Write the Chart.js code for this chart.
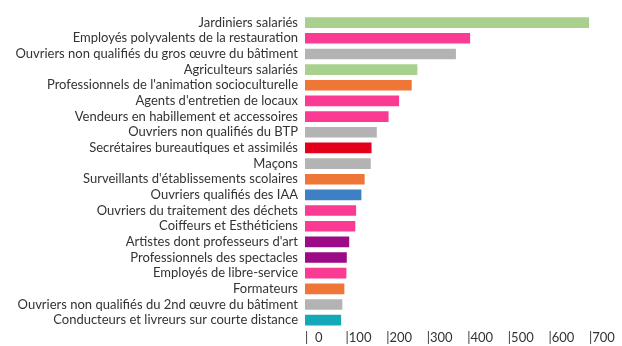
<!DOCTYPE html>
<html>
<head>
<meta charset="utf-8">
<script src="https://cdn.jsdelivr.net/npm/chart.js@4"></script>
<style>
  html, body { margin: 0; padding: 0; background: #fff; }
  #wrap { width: 622px; height: 346px; }
</style>
</head>
<body>
<div id="wrap"><canvas id="myChart"></canvas></div>
<script>
let metiers = [
    "Jardiniers salariés",
    "Employés polyvalents de la restauration",
    "Ouvriers non qualifiés du gros œuvre du bâtiment",
    "Agriculteurs salariés",
    "Professionnels de l'animation socioculturelle",
    "Agents d'entretien de locaux",
    "Vendeurs en habillement et accessoires",
    "Ouvriers non qualifiés du BTP",
    "Secrétaires bureautiques et assimilés",
    "Maçons",
    "Surveillants d'établissements scolaires",
    "Ouvriers qualifiés des IAA",
    "Ouvriers du traitement des déchets",
    "Coiffeurs et Esthéticiens",
    "Artistes dont professeurs d'art",
    "Professionnels des spectacles",
    "Employés de libre-service",
    "Formateurs",
    "Ouvriers non qualifiés du 2nd œuvre du bâtiment",
    "Conducteurs et livreurs sur courte distance"
];
let projets = [700, 407, 372, 277, 263, 232, 206, 177, 164, 162, 147, 139, 126, 124, 109, 103, 102, 97, 92, 89];
let secteurs = ["agri", "resto", "btp", "agri", "anim", "resto", "resto", "btp", "secr", "btp",
                "anim", "iaa", "resto", "resto", "art", "art", "resto", "anim", "btp", "transp"];
let xTicks = [0, 100, 200, 300, 400, 500, 600, 700];

let couleurs = {
    agri: "#a9d18e",
    resto: "#fb3a94",
    btp: "#b3b3b3",
    anim: "#ee7636",
    secr: "#e2001a",
    iaa: "#3d80c3",
    art: "#9c0a87",
    transp: "#14a9b9"
};

let chart = new Chart("myChart", {
    type: "bar",
    data: {
        labels: metiers,
        datasets: [{
            data: projets,
            backgroundColor: secteurs.map(s => couleurs[s]),
            barPercentage: 0.68,
            categoryPercentage: 1
        }]
    },
    options: {
        indexAxis: "y",
        responsive: true,
        maintainAspectRatio: false,
        animation: false,
        layout: { padding: { top: 9, right: 33, left: 0, bottom: 0 } },
        plugins: {
            legend: { display: false },
            tooltip: { enabled: false }
        },
        scales: {
            y: {
                grid: { display: false, drawTicks: false },
                border: { display: false },
                ticks: {
                    color: "#333",
                    padding: 7,
                    autoSkip: false,
                    font: { family: "Lato", size: 13 }
                },
                afterFit: function (scale) { scale.width = 305; }
            },
            x: {
                min: 0,
                max: 700,
                grid: { display: false, drawTicks: false },
                border: { display: false },
                afterBuildTicks: function (scale) {
                    scale.ticks = xTicks.map(v => ({ value: v }));
                },
                afterFit: function (scale) { scale.height = 18; },
                ticks: {
                    align: "start",
                    padding: 2,
                    color: "#333",
                    font: { family: "Lato", size: 13 },
                    callback: function (v) { return v === 0 ? "|  0" : "|" + v; }
                }
            }
        }
    }
});
</script>
</body>
</html>
